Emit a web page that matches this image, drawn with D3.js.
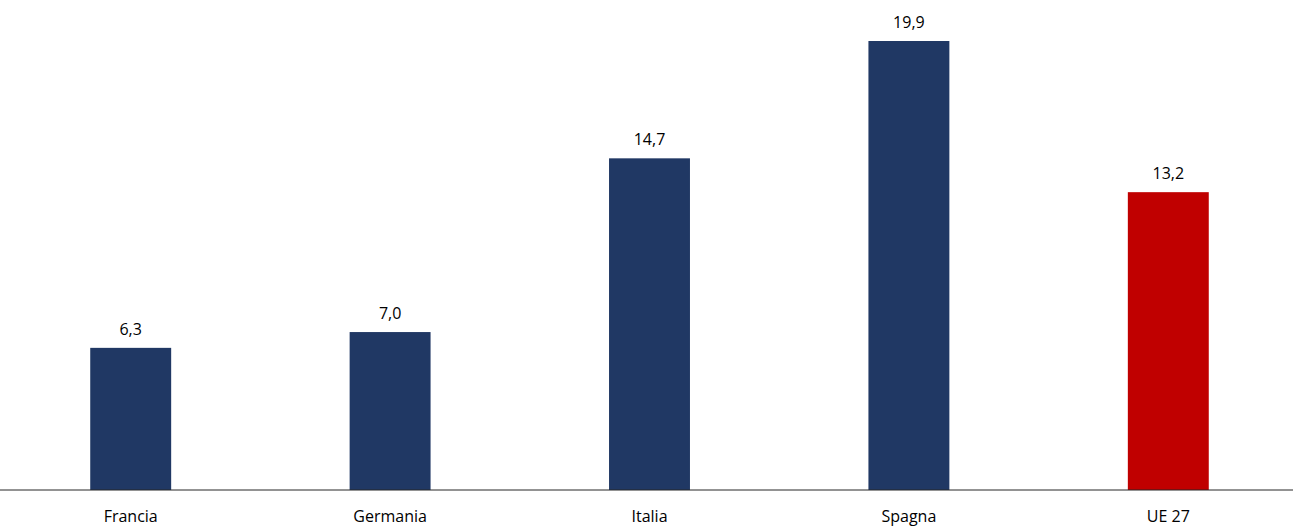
<!DOCTYPE html>
<html>
<head>
<meta charset="utf-8">
<script src="https://cdn.jsdelivr.net/npm/d3@7"></script>
<style>
  body { margin: 0; background: #fff; }
  text { font-family: "Open Sans", "Liberation Sans", sans-serif; font-size: 16px; fill: #000; }
</style>
</head>
<body>
<script>
const categories = ['Francia', 'Germania', 'Italia', 'Spagna', 'UE 27'];
const values = [6.3, 7.0, 14.7, 19.9, 13.2];
const barColors = ['#203864', '#203864', '#203864', '#203864', '#C00000'];

const width = 1293, height = 529;
const baseY = 490;

const svg = d3.select('body').append('svg')
    .attr('width', width)
    .attr('height', height);

const x = d3.scaleBand()
    .domain(categories)
    .range([1, 1298])
    .paddingInner(0.688)
    .paddingOuter(0.344);

const y = d3.scaleLinear()
    .domain([0, 19.9])
    .range([baseY, 41]);

// bars
svg.selectAll('rect.bar')
    .data(values)
    .enter().append('rect')
    .attr('class', 'bar')
    .attr('x', (d, i) => x(categories[i]))
    .attr('y', d => y(d))
    .attr('width', x.bandwidth())
    .attr('height', d => baseY - y(d))
    .attr('fill', (d, i) => barColors[i]);

// value labels
svg.selectAll('text.val')
    .data(values)
    .enter().append('text')
    .attr('class', 'val')
    .attr('x', (d, i) => x(categories[i]) + x.bandwidth() / 2)
    .attr('y', d => y(d) - 13)
    .attr('text-anchor', 'middle')
    .text(d => d.toFixed(1).replace('.', ','));

// axis
const axis = svg.append('g')
    .attr('transform', 'translate(0,' + baseY + ')')
    .call(d3.axisBottom(x).tickSize(0).tickPadding(21));
axis.select('.domain').attr('d', 'M0,0H' + width).attr('stroke', '#262626');
axis.selectAll('text')
    .style('font-family', '"Open Sans", "Liberation Sans", sans-serif')
    .style('font-size', '16px')
    .attr('fill', '#000');
</script>
</body>
</html>
